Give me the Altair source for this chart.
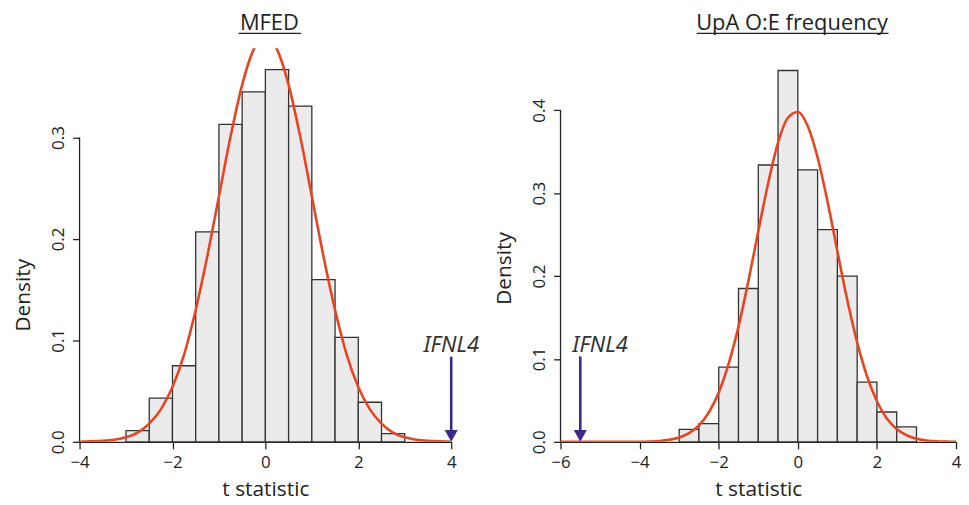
import altair as alt
import pandas as pd

# ---- data ----
bin_start = [-3.0, -2.5, -2.0, -1.5, -1.0, -0.5, 0.0, 0.5, 1.0, 1.5, 2.0, 2.5]
bin_end = [-2.5, -2.0, -1.5, -1.0, -0.5, 0.0, 0.5, 1.0, 1.5, 2.0, 2.5, 3.0]
mfed_density = [0.011, 0.043, 0.075, 0.207, 0.313, 0.345, 0.367, 0.331, 0.160, 0.103, 0.039, 0.008]
upa_density = [0.015, 0.022, 0.090, 0.185, 0.334, 0.448, 0.328, 0.256, 0.200, 0.072, 0.036, 0.018]

mfed_curve_x = [-4.0, -3.75, -3.5, -3.25, -3.0, -2.75, -2.5, -2.25, -2.0, -1.75, -1.5, -1.25, -1.0,
                -0.75, -0.5, -0.25, 0.0, 0.25, 0.5, 0.75, 1.0, 1.25, 1.5, 1.75, 2.0, 2.25, 2.5,
                2.75, 3.0, 3.25, 3.5, 3.75, 4.0]
mfed_curve_y = [0.0001, 0.0004, 0.0009, 0.002, 0.0044, 0.009, 0.018, 0.032, 0.054, 0.086, 0.130,
                0.183, 0.242, 0.301, 0.352, 0.387, 0.399, 0.387, 0.352, 0.301, 0.242, 0.183, 0.130,
                0.086, 0.054, 0.032, 0.018, 0.009, 0.0044, 0.002, 0.0009, 0.0004, 0.0001]

upa_curve_x = [-6.0, -5.0, -4.5, -4.0, -3.75, -3.5, -3.25, -3.0, -2.75, -2.5, -2.25, -2.0, -1.75,
               -1.5, -1.25, -1.0, -0.75, -0.5, -0.25, 0.0, 0.25, 0.5, 0.75, 1.0, 1.25, 1.5, 1.75,
               2.0, 2.25, 2.5, 2.75, 3.0, 3.25, 3.5, 3.75, 4.0]
upa_curve_y = [0.0, 0.0, 0.00002, 0.0001, 0.0004, 0.001, 0.0024, 0.0051, 0.0104, 0.0198, 0.0355,
               0.0596, 0.094, 0.139, 0.194, 0.254, 0.312, 0.361, 0.391, 0.398, 0.381, 0.343, 0.290,
               0.230, 0.171, 0.120, 0.079, 0.049, 0.028, 0.0155, 0.0079, 0.0038, 0.0017, 0.0007,
               0.0003, 0.0001]

titles = ["MFED", "UpA O:E frequency"]
x_title = "t statistic"
y_title = "Density"
x_ticks = [[-4, -2, 0, 2, 4], [-6, -4, -2, 0, 2, 4]]
y_ticks = [[0.0, 0.1, 0.2, 0.3], [0.0, 0.1, 0.2, 0.3, 0.4]]
x_domains = [[-4, 4], [-6, 4]]
y_domains = [[0, 0.388], [0, 0.4748]]
marker_label = "IFNL4"
marker_x = [4.0, -5.5]
marker_bottom = [0.008, 0.008]
marker_top = [0.084, 0.103]
label_x = [4.0, -5.0]
label_y = [0.089, 0.108]

FONT = "Open Sans"
AXIS_COL = "#222222"
RED = "#e8441f"
BLUE = "#3b2a8e"


def panel(i, dens, cx, cy, width, height, title_cx, ul, title_y):
    hist = pd.DataFrame({"x0": bin_start, "x1": bin_end, "d": dens, "base": [0.0] * len(dens)})
    curve = pd.DataFrame({"x": cx, "y": cy})
    ann = pd.DataFrame({
        "mx": [marker_x[i]], "mbot": [marker_bottom[i]], "mtop": [marker_top[i]],
        "zero": [0.0], "lx": [label_x[i]], "ly": [label_y[i]],
        "lab": [marker_label], "title": [titles[i]],
        "ax0": [x_domains[i][0]], "yb": [y_ticks[i][0]], "yt": [y_ticks[i][-1]],
    })
    xs = alt.Scale(domain=x_domains[i], nice=False, zero=False)
    ys = alt.Scale(domain=y_domains[i], nice=False)
    xaxis = alt.Axis(values=x_ticks[i], format="d", title=x_title, grid=False,
                     tickSize=7, tickWidth=1.3, tickColor=AXIS_COL, domainColor=AXIS_COL,
                     domainWidth=1.3, labelFontSize=17, labelFont=FONT, labelColor=AXIS_COL,
                     labelPadding=6, titleFont=FONT, titleFontSize=21, titleFontWeight="normal",
                     titleColor=AXIS_COL, titlePadding=8, labelFlush=False)
    yaxis = alt.Axis(values=y_ticks[i], format=".1f", title=y_title, grid=False, domain=False,
                     tickSize=7, tickWidth=1.3, tickColor=AXIS_COL, labelFontSize=17,
                     labelFont=FONT, labelColor=AXIS_COL, labelAngle=-90, labelAlign="center",
                     labelBaseline="bottom", labelPadding=5, titleFont=FONT, titleFontSize=21,
                     titleFontWeight="normal", titleColor=AXIS_COL, titlePadding=16,
                     titleY=title_y, labelFlush=False)

    def X(f):
        return alt.X(f, scale=xs, title=x_title)

    def Y(f):
        return alt.Y(f, scale=ys, title=y_title)

    bars = alt.Chart(hist).mark_rect(fill="#ebebeb", stroke="#333333", strokeWidth=1.3).encode(
        x=alt.X("x0:Q", scale=xs, axis=xaxis, title=x_title),
        x2="x1:Q",
        y=alt.Y("d:Q", scale=ys, axis=yaxis, title=y_title),
        y2="base:Q",
    )
    base = alt.Chart(ann)
    yline = base.mark_rule(color=AXIS_COL, strokeWidth=1.3).encode(
        x=X("ax0:Q"), y=Y("yb:Q"), y2="yt:Q"
    )
    line = alt.Chart(curve).mark_line(color=RED, strokeWidth=2.6, clip=True,
                                       interpolate="monotone").encode(
        x=X("x:Q"), y=Y("y:Q")
    )
    shaft = base.mark_rule(color=BLUE, strokeWidth=2.6).encode(
        x=X("mx:Q"), y=Y("mbot:Q"), y2="mtop:Q"
    )
    head = base.mark_point(shape="M-0.55,-1L0.55,-1L0,0Z", size=576, filled=True,
                           color=BLUE, opacity=1).encode(
        x=X("mx:Q"), y=Y("zero:Q")
    )
    label = base.mark_text(font="Noto Sans", fontStyle="italic", fontSize=22,
                           color="#333333", baseline="alphabetic", align="center").encode(
        x=X("lx:Q"), y=Y("ly:Q"), text="lab:N"
    )
    title = base.mark_text(font=FONT, fontSize=22, color=AXIS_COL, baseline="alphabetic",
                           align="center").encode(
        x=alt.value(title_cx), y=alt.value(-18), text="title:N"
    )
    underline = base.mark_rule(color=AXIS_COL, strokeWidth=1.3).encode(
        x=alt.value(ul[0]), x2=alt.value(ul[1]), y=alt.value(-15)
    )
    return alt.layer(bars, yline, line, shaft, head, label, title, underline).properties(
        width=width, height=height,
    )


left = panel(0, mfed_density, mfed_curve_x, mfed_curve_y, 374, 396, 191, [160, 223], 248)
right = panel(1, upa_density, upa_curve_x, upa_curve_y, 398, 396, 233, [137, 330], 221)

chart = alt.hconcat(left, right, spacing=110, bounds="flush").configure_view(
    stroke=None
).properties(padding={"left": 5, "right": 0, "top": 3, "bottom": 0})

chart.save("out.html", embed_options={"renderer": "svg", "actions": False})
